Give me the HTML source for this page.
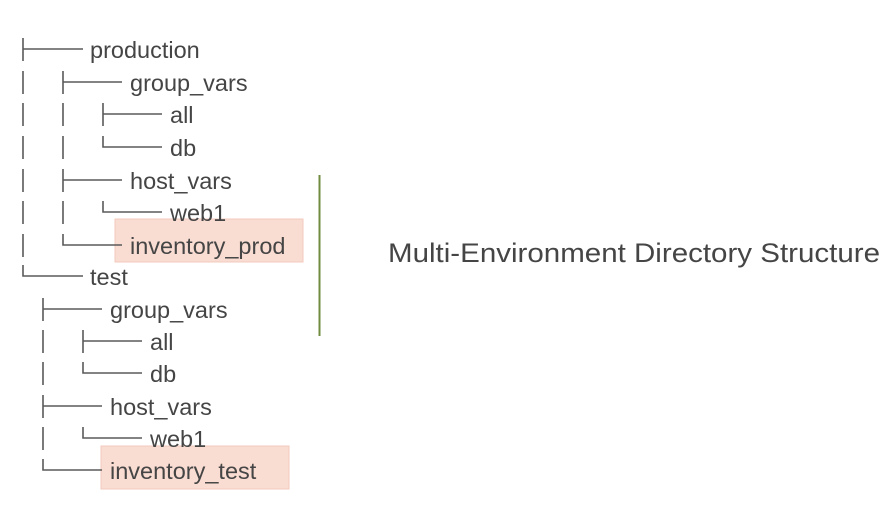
<!DOCTYPE html>
<html><head><meta charset="utf-8"><style>
html,body{margin:0;padding:0;background:#fff;width:887px;height:513px;overflow:hidden}
svg{display:block}
text{font-family:"Liberation Sans",sans-serif;font-size:23.5px;fill:#454545}
</style></head><body>
<svg width="887" height="513" viewBox="0 0 887 513" xmlns="http://www.w3.org/2000/svg">
<rect x="115" y="219" width="188" height="43" fill="#f9dcd2" stroke="#f3cabd" stroke-width="1"/>
<rect x="101" y="446" width="188" height="43" fill="#f9dcd2" stroke="#f3cabd" stroke-width="1"/>
<line x1="319.5" y1="175" x2="319.5" y2="336" stroke="#6f8c3f" stroke-width="2"/>
<g stroke="#5a5a5a" stroke-width="1.6" fill="none">
<path d="M23 38V61M23 49H83"/>
<path d="M23 71V94M63 71V94M63 82H122"/>
<path d="M23 103V126M63 103V126M103 103V126M103 114H162"/>
<path d="M23 136V159M63 136V159M103 136V147H162"/>
<path d="M23 169V192M63 169V192M63 180H122"/>
<path d="M23 201V224M63 201V224M103 201V212H162"/>
<path d="M23 234V257M63 234V245H122"/>
<path d="M23 265V276H83"/>
<path d="M43 298V321M43 309H102"/>
<path d="M43 330V353M83 330V353M83 341H142"/>
<path d="M43 362V385M83 362V373H142"/>
<path d="M43 395V418M43 406H102"/>
<path d="M43 427V450M83 427V438H142"/>
<path d="M43 459V470H102"/>
</g>
<text x="90" y="58">production</text>
<text x="130" y="91">group_vars</text>
<text x="170" y="123">all</text>
<text x="170" y="156">db</text>
<text x="130" y="189">host_vars</text>
<text x="170" y="221">web1</text>
<text x="130" y="254">inventory_prod</text>
<text x="90" y="285">test</text>
<text x="110" y="318">group_vars</text>
<text x="150" y="350">all</text>
<text x="150" y="382">db</text>
<text x="110" y="415">host_vars</text>
<text x="150" y="447">web1</text>
<text x="110" y="479">inventory_test</text>
<text x="388" y="262" style="font-size:27px" textLength="492" lengthAdjust="spacingAndGlyphs">Multi-Environment Directory Structure</text>
</svg>
</body></html>
